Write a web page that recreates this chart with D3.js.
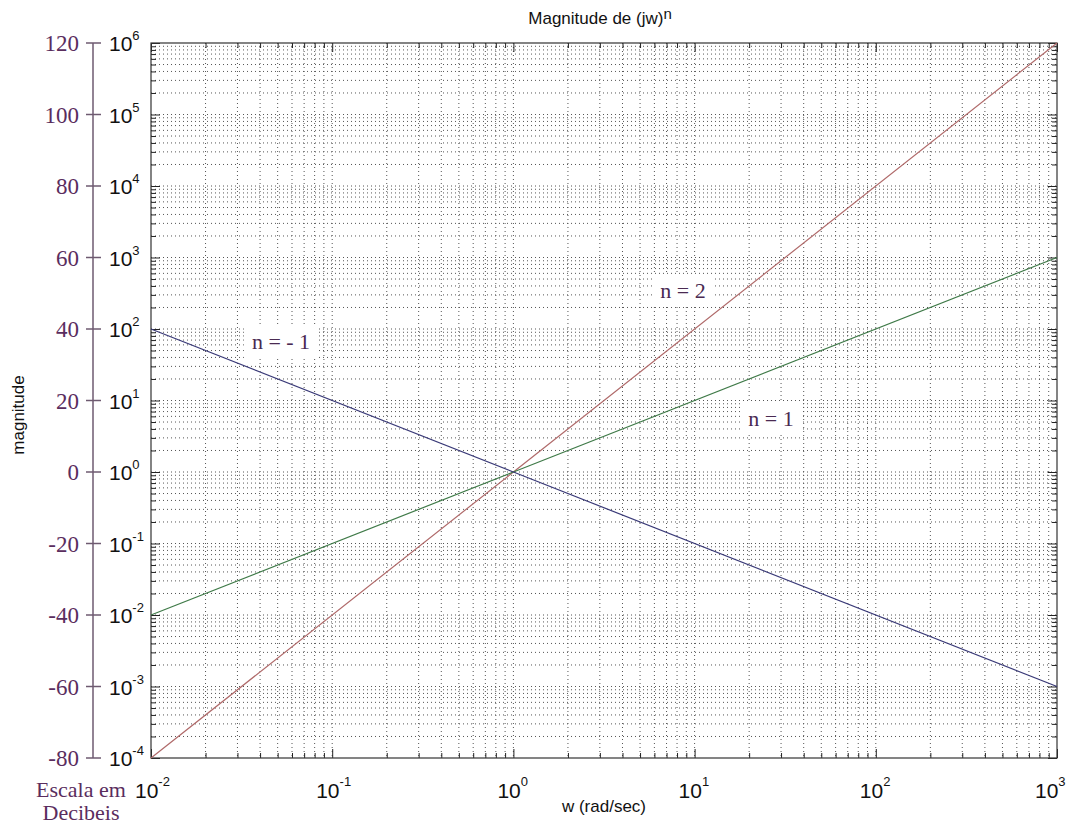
<!DOCTYPE html>
<html><head><meta charset="utf-8">
<script src="https://cdn.jsdelivr.net/npm/d3@7"></script>
<style>
html,body{margin:0;padding:0;background:#fff;}
svg{display:block;}
</style></head>
<body>
<svg id="chart" width="1070" height="825"></svg>
<script>
// ---- data ----
const wPoints = [0.01, 1, 1000];
const magN2 = [1e-4, 1, 1e6];
const magN1 = [1e-2, 1, 1e3];
const magNm1 = [1e2, 1, 1e-3];
const seriesNames = ["n = 2", "n = 1", "n = - 1"];
const xDecades = [-2, -1, 0, 1, 2, 3];
const yDecades = [-4, -3, -2, -1, 0, 1, 2, 3, 4, 5, 6];
const dbLabels = ["-80", "-60", "-40", "-20", "0", "20", "40", "60", "80", "100", "120"];

const svg = d3.select("#chart");
const L = 151, R = 1057, T = 43, B = 758;
const x = d3.scaleLog().domain([1e-2, 1e3]).range([L, R]);
const y = d3.scaleLog().domain([1e-4, 1e6]).range([B, T]);

// minor values
const xMinor = [], yMinor = [];
for (let d = -2; d < 3; d++) for (let k = 2; k <= 9; k++) xMinor.push(k * Math.pow(10, d));
for (let d = -4; d < 6; d++) for (let k = 2; k <= 9; k++) yMinor.push(k * Math.pow(10, d));
const xMajor = xDecades.map(d => Math.pow(10, d));
const yMajor = yDecades.map(d => Math.pow(10, d));

const grid = svg.append("g");
grid.selectAll(".gx").data(xMinor.concat(xMajor.slice(1, -1))).enter().append("line")
  .attr("x1", d => x(d)).attr("x2", d => x(d)).attr("y1", T).attr("y2", B)
  .attr("stroke", "#555").attr("stroke-width", 1).attr("stroke-dasharray", "1,3");
grid.selectAll(".gy").data(yMinor.concat(yMajor.slice(1, -1))).enter().append("line")
  .attr("y1", d => y(d)).attr("y2", d => y(d)).attr("x1", L).attr("x2", R)
  .attr("stroke", "#555").attr("stroke-width", 1).attr("stroke-dasharray", "1,3");

// axes with inner ticks
const axB = d3.axisBottom(x).tickValues(xMinor).tickSize(-5).tickFormat("");
const axT = d3.axisTop(x).tickValues(xMinor).tickSize(-5).tickFormat("");
const axBM = d3.axisBottom(x).tickValues(xMajor).tickSize(-9).tickFormat("");
const axTM = d3.axisTop(x).tickValues(xMajor).tickSize(-9).tickFormat("");
const axL = d3.axisLeft(y).tickValues(yMinor).tickSize(-5).tickFormat("");
const axRr = d3.axisRight(y).tickValues(yMinor).tickSize(-5).tickFormat("");
const axLM = d3.axisLeft(y).tickValues(yMajor).tickSize(-9).tickFormat("");
const axRM = d3.axisRight(y).tickValues(yMajor).tickSize(-9).tickFormat("");
[[axB, `translate(0,${B})`], [axBM, `translate(0,${B})`], [axT, `translate(0,${T})`], [axTM, `translate(0,${T})`],
 [axL, `translate(${L},0)`], [axLM, `translate(${L},0)`], [axRr, `translate(${R},0)`], [axRM, `translate(${R},0)`]]
 .forEach(([a, tr]) => {
   const g = svg.append("g").attr("transform", tr).call(a);
   g.select(".domain").remove();
   g.selectAll("line").attr("stroke", "#222");
 });
svg.append("rect").attr("x", L).attr("y", T).attr("width", R - L).attr("height", B - T)
  .attr("fill", "none").attr("stroke", "#333").attr("stroke-width", 1.2);

// lines
const lineGen = d3.line().x(d => x(d[0])).y(d => y(d[1]));
const series = [
  {vals: magN2, color: "#b06a6a"},
  {vals: magN1, color: "#3f7a48"},
  {vals: magNm1, color: "#3a3a78"}
];
series.forEach(s => {
  svg.append("path").datum(wPoints.map((w, i) => [w, s.vals[i]]))
    .attr("d", lineGen).attr("fill", "none").attr("stroke", s.color).attr("stroke-width", 1.2);
});

// series labels with white background
const labelPos = [[683, 298], [771, 426], [281, 349]];
seriesNames.forEach((t, i) => {
  const g = svg.append("g");
  const txt = g.append("text").attr("x", labelPos[i][0]).attr("y", labelPos[i][1])
    .attr("text-anchor", "middle").attr("font-family", "Liberation Serif, serif")
    .attr("font-size", 22).attr("fill", "#4a2a52").text(t);
  const bb = txt.node().getBBox();
  g.insert("rect", "text").attr("x", bb.x - 8).attr("y", bb.y - 4).attr("width", bb.width + 16)
    .attr("height", bb.height + 8).attr("fill", "#fff");
});

// y tick labels (10^n)
const sans = "Liberation Sans, Arial, sans-serif";
yDecades.forEach(d => {
  const t = svg.append("text").attr("x", 109).attr("y", y(Math.pow(10, d)) + 8)
    .attr("font-family", sans).attr("font-size", 21).attr("fill", "#111");
  t.append("tspan").text("10");
  t.append("tspan").attr("dy", -11).attr("font-size", 13).text(d);
});
// x tick labels
xDecades.forEach(d => {
  const t = svg.append("text").attr("x", Math.min(x(Math.pow(10, d)) - 16, 1035)).attr("y", 798)
    .attr("font-family", sans).attr("font-size", 21).attr("fill", "#111");
  t.append("tspan").text("10");
  t.append("tspan").attr("dy", -12).attr("font-size", 13).text(d);
});

// dB axis
const dbColor = "#5a2d5e";
svg.append("line").attr("x1", 93).attr("x2", 93).attr("y1", y(1e6)).attr("y2", y(1e-4))
  .attr("stroke", "#6e5a70").attr("stroke-width", 1.5);
yDecades.forEach((d, i) => {
  svg.append("line").attr("x1", 86).attr("x2", 101).attr("y1", y(Math.pow(10, d))).attr("y2", y(Math.pow(10, d)))
    .attr("stroke", "#6e5a70").attr("stroke-width", 1.5);
  svg.append("text").attr("x", 79).attr("y", y(Math.pow(10, d)) + 8).attr("text-anchor", "end")
    .attr("font-family", "Liberation Serif, serif").attr("font-size", 23).attr("fill", dbColor)
    .text(dbLabels[i]);
});
svg.append("text").attr("x", 81).attr("y", 797).attr("text-anchor", "middle")
  .attr("font-family", "Liberation Serif, serif").attr("font-size", 22).attr("fill", dbColor).text("Escala em");
svg.append("text").attr("x", 81).attr("y", 820).attr("text-anchor", "middle")
  .attr("font-family", "Liberation Serif, serif").attr("font-size", 22).attr("fill", dbColor).text("Decibeis");

// titles
const title = svg.append("text").attr("x", 600).attr("y", 24).attr("text-anchor", "middle")
  .attr("font-family", sans).attr("font-size", 17).attr("fill", "#111");
title.append("tspan").text("Magnitude de (jw)");
title.append("tspan").attr("dy", -5).attr("font-size", 15).text("n");
svg.append("text").attr("x", 604).attr("y", 812).attr("text-anchor", "middle")
  .attr("font-family", sans).attr("font-size", 17).attr("fill", "#111").text("w (rad/sec)");
svg.append("text").attr("transform", "translate(24,415) rotate(-90)").attr("text-anchor", "middle")
  .attr("font-family", sans).attr("font-size", 17).attr("fill", "#111").text("magnitude");
</script>
</body></html>
